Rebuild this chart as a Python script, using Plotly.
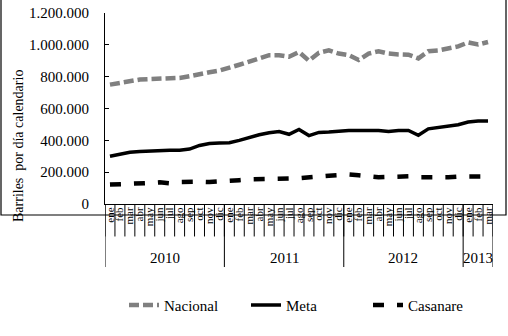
import plotly.graph_objects as go

months = ["ene", "feb", "mar", "abr", "may", "jun", "jul", "ago", "sep", "oct", "nov", "dic"] * 3 + ["ene", "feb", "mar"]
years = ["2010", "2011", "2012", "2013"]
year_counts = [12, 12, 12, 3]

nacional = [750, 762, 775, 782, 785, 786, 788, 792, 803, 818, 828, 838,
            860, 875, 895, 918, 935, 935, 925, 955, 900, 950, 965, 945,
            935, 905, 945, 960, 945, 940, 938, 915, 960, 965, 975, 990,
            1015, 1002, 1018]
meta = [300, 315, 325, 330, 333, 338, 338, 338, 345, 368, 380, 383,
        385, 400, 420, 435, 448, 455, 438, 468, 430, 450, 452, 458,
        462, 462, 462, 462, 455, 462, 462, 432, 472, 482, 488, 498,
        515, 522, 522]
casanare = [122, 123, 125, 128, 132, 136, 130, 138, 142, 140, 138, 140,
            143, 150, 155, 158, 160, 159, 160, 162, 165, 170, 178, 182,
            185, 180, 172, 168, 170, 172, 174, 168, 166, 167, 168, 172,
            174, 174, 172]

idx = list(range(len(months)))
scale = 1000

fig = go.Figure()
fig.add_trace(go.Scatter(x=idx, y=[v * scale for v in nacional], name="Nacional", mode="lines",
                         line=dict(color="#808080", width=4.5, dash="10px,4px")))
fig.add_trace(go.Scatter(x=idx, y=[v * scale for v in meta], name="Meta", mode="lines",
                         line=dict(color="#000000", width=3.5)))
fig.add_trace(go.Scatter(x=idx, y=[v * scale for v in casanare], name="Casanare", mode="lines",
                         line=dict(color="#000000", width=4.5, dash="11px,13px")))

font = "Liberation Serif"

shapes = []
# month separators
for k in range(len(months) + 1):
    shapes.append(dict(type="line", xref="x", yref="paper", x0=k - 0.5, x1=k - 0.5,
                       y0=0, y1=-0.17, line=dict(color="black", width=1)))
# year dividers
bounds = [0]
for c in year_counts:
    bounds.append(bounds[-1] + c)
for b in bounds:
    shapes.append(dict(type="line", xref="x", yref="paper", x0=b - 0.5, x1=b - 0.5,
                       y0=0, y1=-0.33, line=dict(color="black", width=1)))
# outer frame
W, H, L, R, T, B = 508, 336, 105, 15, 13, 132
pw, ph = W - L - R, H - T - B
shapes.append(dict(type="rect", xref="paper", yref="paper",
                   x0=(1 - L) / pw, x1=(506 - L) / pw,
                   y0=(H - T - 334) / ph, y1=(H - T - 1) / ph,
                   line=dict(color="black", width=1.2)))

annotations = []
for i, y in enumerate(years):
    center = (bounds[i] + bounds[i + 1] - 1) / 2
    annotations.append(dict(x=center, y=-0.285, xref="x", yref="paper", text=y, showarrow=False,
                            font=dict(family=font, size=15, color="black"), yanchor="middle"))
annotations.append(dict(x=(18 - L) / pw, y=(204 - 146) / ph, xref="paper", yref="paper",
                        text="Barriles  por día calendario", textangle=-90, showarrow=False,
                        font=dict(family=font, size=14, color="black"),
                        xanchor="center", yanchor="middle"))

fig.update_layout(
    width=W, height=H,
    margin=dict(l=L, r=R, t=T, b=B, autoexpand=False),
    paper_bgcolor="white", plot_bgcolor="white",
    separators=",.",
    font=dict(family=font, size=14, color="black"),
    showlegend=True,
    legend=dict(orientation="h", x=0.5 + 8 / pw, xanchor="center", y=-0.53, yanchor="middle",
                entrywidth=77, entrywidthmode="pixels",
                font=dict(family=font, size=15, color="black"), bgcolor="rgba(0,0,0,0)"),
    shapes=shapes,
    annotations=annotations,
)
fig.update_xaxes(range=[-0.5, len(months) - 0.5], tickvals=idx, ticktext=months, tickangle=-90,
                 ticks="", showline=True, linecolor="black", linewidth=1, showgrid=False,
                 zeroline=False, ticklabelstandoff=-2,
                 tickfont=dict(family=font, size=11, color="black"))
fig.update_yaxes(range=[0, 1200000], tickvals=[0, 200000, 400000, 600000, 800000, 1000000, 1200000],
                 tickformat=",d", ticks="inside", ticklen=4, tickcolor="black",
                 showline=True, linecolor="black", linewidth=1, showgrid=False, zeroline=False,
                 ticklabelstandoff=12, tickfont=dict(family=font, size=15, color="black"))

fig.write_html("out.html")
